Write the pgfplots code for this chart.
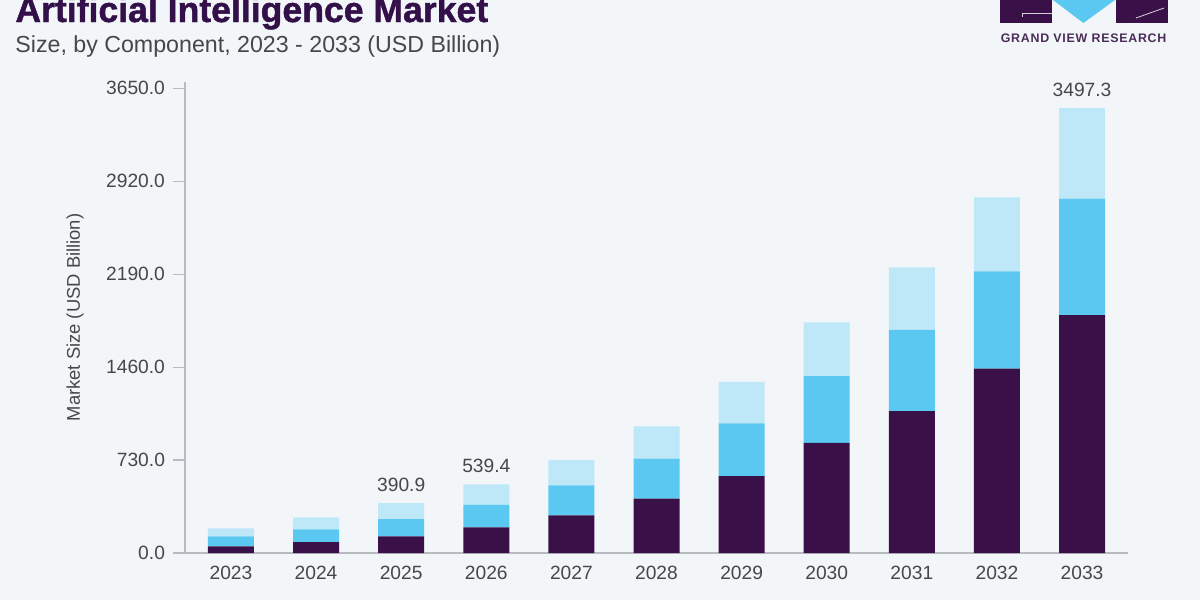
\documentclass[border=0pt]{standalone}
\usepackage{fontspec}
\setmainfont{Liberation Sans}
\newfontfamily\titlefont{Liberation Sans Bold}[FakeBold=1.3]
\newfontfamily\logofont{Liberation Sans Bold}[LetterSpace=6]
\usepackage{pgfplots}
\usepackage{pgfplotstable}
\pgfplotsset{compat=1.18}
\definecolor{bgcol}{HTML}{F2F6F9}
\definecolor{darkp}{HTML}{3A1049}
\definecolor{midb}{HTML}{5BC8F2}
\definecolor{lightb}{HTML}{BEE7F8}
\definecolor{axisgray}{HTML}{B8BCC0}
\definecolor{txtgray}{HTML}{474747}
\definecolor{titlecol}{HTML}{34104A}

\pgfplotstableread{
x dark mid light
0 53 77 63
1 85 100 95
2 131 136 123.9
3 201 177 161.4
4 295 236 201
5 428 314 252
6 603 416 325
7 866 523 423
8 1114 639 491
9 1449 764 581
10 1868 915 714.3
}\datatable

\pgfplotstableread{
x tot lbl
2 390.9 390.9
3 539.4 539.4
10 3497.3 3497.3
}\labeltable

\pgfplotsset{
  basegeom/.style={
    at={(92.5pt,-276.5pt)}, anchor=south west,
    scale only axis, width=471.5pt, height=235.5pt,
    xmin=-0.54, xmax=10.54, ymin=0, ymax=3700,
  }
}

\begin{document}
\begin{tikzpicture}
\path[use as bounding box] (0,0) rectangle (600pt,-300pt);
\clip (0,0) rectangle (600pt,-300pt);
\fill[bgcol] (0,0) rectangle (600pt,-300pt);

% title
\node[anchor=base west, inner sep=0pt, text=titlecol] at (7.5pt,-11pt)
  {\titlefont\fontsize{17.8}{20}\selectfont Artificial Intelligence Market};
\node[anchor=base west, inner sep=0pt, text=txtgray] at (7.5pt,-26.3pt)
  {\fontsize{11.6}{13}\selectfont Size, by Component, 2023 - 2033 (USD Billion)};

% logo
\fill[darkp] (500pt,0) rectangle (526pt,-11.5pt);
\fill[midb] (526.5pt,0) -- (557.5pt,0) -- (541.7pt,-11.5pt) -- cycle;
\fill[darkp] (558pt,0) rectangle (584pt,-11.5pt);
\draw[white!80!darkp, line width=0.4pt] (526pt,-6.5pt) -- (511pt,-6.5pt) -- (511pt,-8.5pt);
\draw[white!80!darkp, line width=0.4pt] (568pt,-9pt) -- (582pt,-4pt);
\node[anchor=center, inner sep=0pt, text=darkp!75!gray] at (541.8pt,-19pt)
  {\logofont\fontsize{6.2}{7}\selectfont GRAND VIEW RESEARCH};

\begin{axis}[
  basegeom,
  ybar stacked, bar width=23pt,
  axis x line*=bottom, axis y line*=left,
  axis line style={draw=axisgray, line width=0.6pt, -},
  xtick={0,...,10},
  xticklabels={2023,2024,2025,2026,2027,2028,2029,2030,2031,2032,2033},
  x tick style={draw=none},
  ytick={0,730,1460,2190,2920,3650},
  y tick style={draw=axisgray, line width=0.6pt},
  tick align=outside, major tick length=6pt,
  /pgf/number format/assume math mode=true,
  /pgf/number format/1000 sep={},
  yticklabel={\pgfmathprintnumber[fixed, fixed zerofill, precision=1]{\tick}},
  tick label style={font=\fontsize{9.6}{11}\selectfont, text=txtgray},
  xticklabel style={yshift=3pt},
  yticklabel style={xshift=-0.5pt},
  ylabel={Market Size (USD Billion)},
  ylabel style={at={(axis description cs:-0.1166,0.5)}, anchor=center, rotate=0,
    font=\fontsize{9.2}{11}\selectfont, text=txtgray},
  clip=false,
]
\addplot[fill=darkp, draw=none] table[x=x, y=dark] {\datatable};
\addplot[fill=midb, draw=none] table[x=x, y=mid] {\datatable};
\addplot[fill=lightb, draw=none] table[x=x, y=light] {\datatable};
\draw[axisgray, line width=0.6pt] (rel axis cs:0,0) -- ++(-6.5pt,0);
\end{axis}

\begin{axis}[
  basegeom, hide axis, clip=false,
]
\addplot[draw=none, mark=none, only marks,
  nodes near coords, point meta=explicit symbolic,
  every node near coord/.style={font=\fontsize{9.6}{11}\selectfont, text=txtgray,
    anchor=south, inner sep=0pt, yshift=5.5pt}]
  table[x=x, y=tot, meta=lbl] {\labeltable};
\end{axis}
\end{tikzpicture}
\end{document}
